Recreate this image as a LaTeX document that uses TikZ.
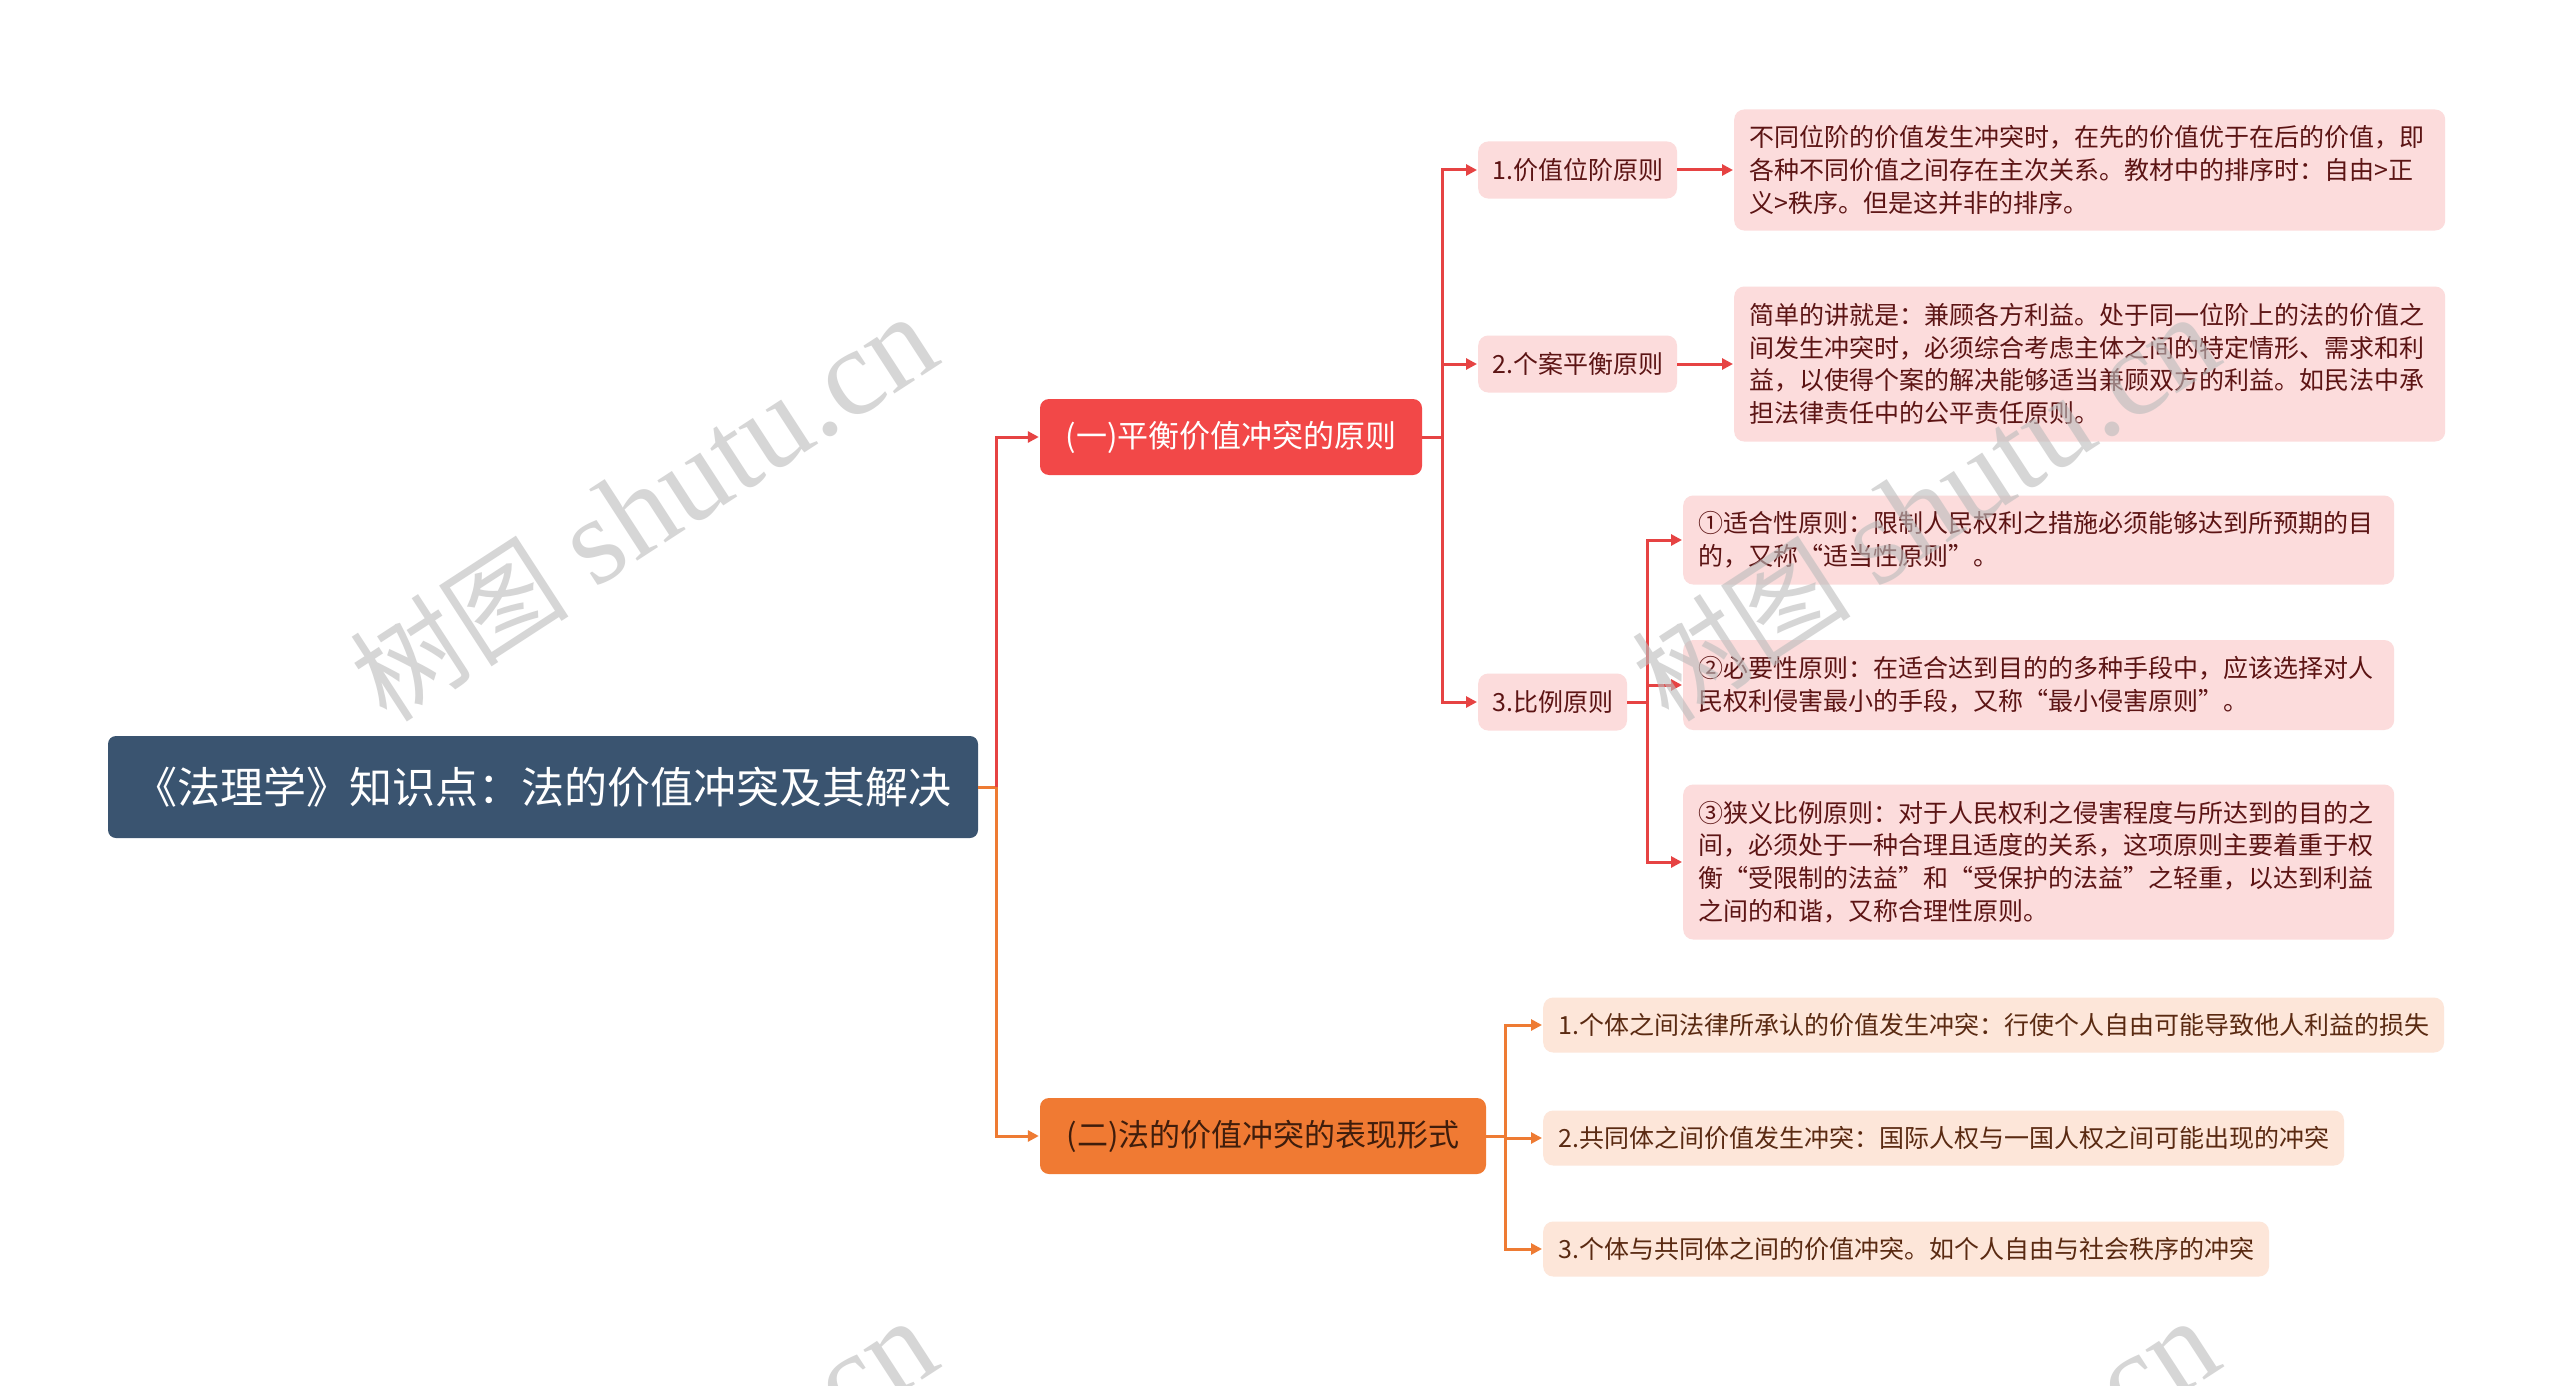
\documentclass[tikz,border=0pt]{standalone}
\usepackage{fontspec}
\setmainfont{Noto Sans CJK SC}
\newfontfamily\wmlatin{Liberation Serif}
\usetikzlibrary{arrows.meta}
\definecolor{rootblue}{HTML}{3A5470}
\definecolor{redfill}{HTML}{F24848}
\definecolor{redline}{HTML}{E64343}
\definecolor{orfill}{HTML}{F07A33}
\definecolor{orline}{HTML}{EE7B33}
\definecolor{pinkfill}{HTML}{FCDCDC}
\definecolor{pinktext}{HTML}{5C1414}
\definecolor{peachfill}{HTML}{FDE6D9}
\definecolor{peachtext}{HTML}{5A2A12}
\definecolor{wmgray}{HTML}{BDBDBD}
\begin{document}
\begin{tikzpicture}[x=1pt,y=-1pt,
  rootbox/.style={fill=rootblue,text=white,rounded corners=8pt,inner sep=0pt,
    minimum width=870pt,minimum height=102pt,font=\fontsize{43}{50}\selectfont},
  mainbox/.style={rounded corners=9pt,inner sep=0pt,minimum height=76pt,
    font=\fontsize{31}{38}\selectfont},
  pinkbox/.style={fill=pinkfill,text=pinktext,rounded corners=10pt,inner xsep=14pt,
    inner ysep=0pt,anchor=west,font=\fontsize{25}{32.7}\selectfont},
  pinktall/.style={pinkbox,inner xsep=15pt,text width=681pt,align=left},
  peachbox/.style={fill=peachfill,text=peachtext,rounded corners=10pt,inner xsep=15pt,
    inner ysep=0pt,anchor=west,minimum height=55pt,font=\fontsize{25}{32.7}\selectfont},
  redcon/.style={draw=redline,line width=3pt,-{Triangle[length=11pt,width=11pt]},shorten >=1pt},
  orcon/.style={draw=orline,line width=3pt,-{Triangle[length=11pt,width=11pt]},shorten >=1pt},
  wm/.style={text=wmgray,text opacity=0.62,rotate=33,inner sep=0pt,font=\fontsize{124}{134}\selectfont}
]
\fill[white] (0,0) rectangle (2560,1386);
\useasboundingbox (0,0) rectangle (2560,1386);

% root and main branches
\node[rootbox] (root) at (543,787) {《法理学》知识点：法的价值冲突及其解决};
\node[mainbox,fill=redfill,text=white,minimum width=382pt] (b1) at (1231,437) {(一)平衡价值冲突的原则};
\node[mainbox,fill=orfill,text=peachtext!70!black,minimum width=446pt] (b2) at (1263,1136) {(二)法的价值冲突的表现形式};

% first branch children
\node[pinkbox,minimum height=57pt] (c1) at (1478,170) {1.价值位阶原则};
\node[pinkbox,minimum height=57pt] (c2) at (1478,364) {2.个案平衡原则};
\node[pinkbox,minimum height=57pt] (c3) at (1478,702) {3.比例原则};

\node[pinktall,minimum height=121pt] (d1) at (1734,170) {不同位阶的价值发生冲突时，在先的价值优于在后的价值，即\\各种不同价值之间存在主次关系。教材中的排序时：自由>正\\义>秩序。但是这并非的排序。};
\node[pinktall,minimum height=155pt] (d2) at (1734,364) {简单的讲就是：兼顾各方利益。处于同一位阶上的法的价值之\\间发生冲突时，必须综合考虑主体之间的特定情形、需求和利\\益，以使得个案的解决能够适当兼顾双方的利益。如民法中承\\担法律责任中的公平责任原则。};

\node[pinktall,minimum height=89pt] (e1) at (1683,540) {①适合性原则：限制人民权利之措施必须能够达到所预期的目\\的，又称“适当性原则”。};
\node[pinktall,minimum height=90pt] (e2) at (1683,685) {②必要性原则：在适合达到目的的多种手段中，应该选择对人\\民权利侵害最小的手段，又称“最小侵害原则”。};
\node[pinktall,minimum height=155pt] (e3) at (1683,862) {③狭义比例原则：对于人民权利之侵害程度与所达到的目的之\\间，必须处于一种合理且适度的关系，这项原则主要着重于权\\衡“受限制的法益”和“受保护的法益”之轻重，以达到利益\\之间的和谐，又称合理性原则。};

% second branch children
\node[peachbox] (f1) at (1543,1025) {1.个体之间法律所承认的价值发生冲突：行使个人自由可能导致他人利益的损失};
\node[peachbox] (f2) at (1543,1138) {2.共同体之间价值发生冲突：国际人权与一国人权之间可能出现的冲突};
\node[peachbox] (f3) at (1543,1249) {3.个体与共同体之间的价值冲突。如个人自由与社会秩序的冲突};

% connectors
\draw[draw=orline,line width=3pt] (root.east) -- ++(18,0) coordinate (rj);
\draw[redcon] (rj) |- (b1.west);
\draw[orcon] (rj) |- (b2.west);

\draw[redcon] (b1.east) -- ++(20,0) |- (c1.west);
\draw[redcon] (b1.east) -- ++(20,0) |- (c2.west);
\draw[redcon] (b1.east) -- ++(20,0) |- (c3.west);

\draw[redcon] (c1.east) -- (d1.west);
\draw[redcon] (c2.east) -- (d2.west);

\draw[redcon] (c3.east) -- ++(20,0) |- (e1.west);
\draw[redcon] (c3.east) -- ++(20,0) |- (e2.west);
\draw[redcon] (c3.east) -- ++(20,0) |- (e3.west);

\draw[orcon] (b2.east) -- ++(19,0) |- (f1.west);
\draw[orcon] (b2.east) -- ++(19,0) |- (f2.west);
\draw[orcon] (b2.east) -- ++(19,0) |- (f3.west);

% watermarks
\begin{scope}
\clip (0,0) rectangle (2560,1386);
\node[wm] (wm1) at (643,508) {{\fontsize{110}{116}\selectfont 树图} {\wmlatin shutu.cn}};
\node[wm] (wm2) at (1925,508) {{\fontsize{110}{116}\selectfont 树图} {\wmlatin shutu.cn}};
\node[wm] (wm3) at (643,1512) {{\fontsize{110}{116}\selectfont 树图} {\wmlatin shutu.cn}};
\node[wm] (wm4) at (1925,1512) {{\fontsize{110}{116}\selectfont 树图} {\wmlatin shutu.cn}};
\end{scope}
\end{tikzpicture}
\end{document}
